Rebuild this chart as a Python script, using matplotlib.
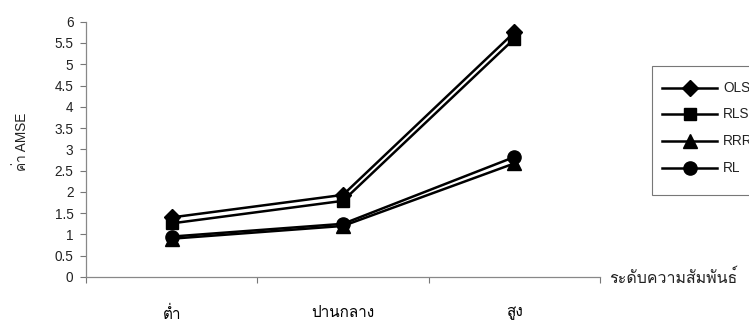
import matplotlib
matplotlib.use("Agg")
import matplotlib.pyplot as plt
from matplotlib.lines import Line2D
from matplotlib.patches import Rectangle

# Correlation levels (low, medium, high) and AMSE of each estimator
levels = ["ต่ำ", "ปานกลาง", "สูง"]
ols = [1.40, 1.93, 5.75]
rls = [1.26, 1.79, 5.60]
rrr = [0.90, 1.20, 2.67]
rl = [0.95, 1.25, 2.82]
series_names = ["OLS", "RLS", "RRR", "RL"]
y_ticks = [0, 0.5, 1, 1.5, 2, 2.5, 3, 3.5, 4, 4.5, 5, 5.5, 6]
y_tick_labels = ["0", "0.5", "1", "1.5", "2", "2.5", "3", "3.5", "4", "4.5", "5", "5.5", "6"]

FONT = ["Liberation Sans", "Loma", "DejaVu Sans"]
THAI = ["Loma", "Liberation Sans", "DejaVu Sans"]
plt.rcParams["font.family"] = FONT

W, H = 749, 325
fig = plt.figure(figsize=(W / 100, H / 100), dpi=100)
ax = fig.add_axes([86 / W, 48 / H, (600 - 86) / W, (277 - 21.7) / H])

markers = ["D", "s", "^", "o"]
msizes = [8.5, 8.5, 9.5, 9.5]
x = list(range(len(levels)))
for vals, name, m, ms in zip([ols, rls, rrr, rl], series_names, markers, msizes):
    ax.plot(x, vals, color="black", lw=1.8, marker=m, markersize=ms,
            markerfacecolor="black", markeredgecolor="black", label=name,
            clip_on=False)

ax.set_xlim(-0.5, len(levels) - 0.5)
ax.set_ylim(0, 6)
ax.set_yticks(y_ticks)
ax.set_yticklabels(y_tick_labels)

# category boundaries carry the ticks, labels sit between them
ax.set_xticks([i - 0.5 for i in range(len(levels) + 1)])
ax.set_xticklabels([])
ax.set_xticks(x, minor=True)
ax.set_xticklabels(levels, minor=True, family=THAI, fontsize=11)
ax.tick_params(axis="x", which="minor", length=0, pad=21)
ax.tick_params(axis="x", which="major", length=4, direction="out", color="#777777")
ax.tick_params(axis="y", length=4.5, direction="out", color="#777777",
               labelsize=9.8, pad=4.5, labelcolor="#222222")

for s in ["top", "right"]:
    ax.spines[s].set_visible(False)
for s in ["left", "bottom"]:
    ax.spines[s].set_color("#888888")
    ax.spines[s].set_linewidth(0.9)

def px(xp, yp):
    return xp / W, 1 - yp / H

fig.text(*px(22, 142), "ค่า AMSE", fontsize=9.8, color="#222222", rotation=90,
         ha="center", va="center")
fig.text(*px(609, 278), "ระดับความสัมพันธ์", family=THAI, fontsize=11.5,
         va="center", ha="left", color="#222222")

# legend box, drawn in figure pixels; its right side runs past the edge
fig.patches.append(Rectangle(px(652, 195), (770 - 652) / W, (195 - 66) / H,
                             transform=fig.transFigure, facecolor="white",
                             edgecolor="#777777", linewidth=0.8, zorder=5))
row_y = [88, 114, 141, 168]
for name, m, ms, yp in zip(series_names, markers, msizes, row_y):
    (x0, y0), (x1, _) = px(662, yp), px(717, yp)
    fig.add_artist(Line2D([x0, x1], [y0, y0], transform=fig.transFigure,
                          color="black", lw=1.8, zorder=6))
    fig.add_artist(Line2D([(x0 + x1) / 2], [y0], transform=fig.transFigure,
                          marker=m, markersize=ms, color="black", zorder=7))
    fig.text(*px(723, yp), name, fontsize=9.8, va="center", ha="left",
             color="#222222", zorder=8)

fig.savefig("out.png", dpi=100)
